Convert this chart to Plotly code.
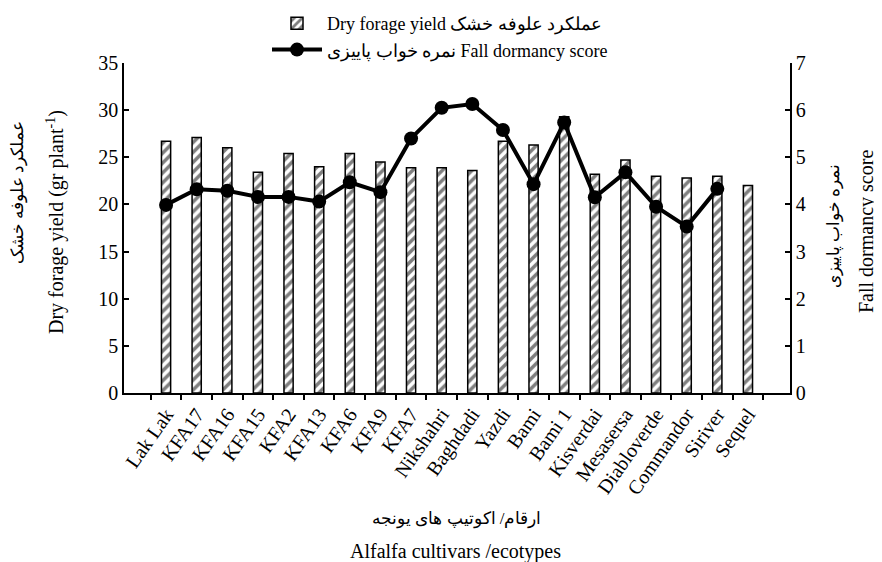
import plotly.graph_objects as go

categories = ["Lak Lak", "KFA17", "KFA16", "KFA15", "KFA2", "KFA13", "KFA6", "KFA9", "KFA7",
              "Nikshahri", "Baghdadi", "Yazdi", "Bami", "Bami 1", "Kisverdai", "Mesasersa",
              "Diabloverde", "Commandor", "Siriver", "Sequel"]
dry_forage_yield = [26.7, 27.1, 26.0, 23.4, 25.4, 24.0, 25.4, 24.5, 23.9, 23.9, 23.6,
                    26.7, 26.3, 29.3, 23.2, 24.7, 23.0, 22.8, 23.0, 22.0]
fall_dormancy = [3.99, 4.32, 4.29, 4.16, 4.16, 4.06, 4.47, 4.26, 5.40, 6.05, 6.13,
                 5.58, 4.43, 5.74, 4.15, 4.68, 3.95, 3.53, 4.33, None]

y_title_fa = "عملکرد علوفه خشک"
y_title_en = "Dry forage yield (gr plant<sup>-1</sup>)"
y2_title_fa = "نمره خواب پاییزی"
y2_title_en = "Fall dormancy score"
x_title_fa = "ارقام/ اکوتیپ های یونجه"
x_title_en = "Alfalfa cultivars /ecotypes"

font_family = "Liberation Serif, Times New Roman, serif"

# page has an 8px body margin; work in page pixel coordinates
OFF = 8
PAGE_W, PAGE_H = 882, 562
W, H = PAGE_W - OFF, PAGE_H - OFF
px_left, px_right, px_top, px_bottom = 124, 790, 63, 393
L = px_left - OFF
R = W - (px_right - OFF)
T = px_top - OFF
B = H - (px_bottom - OFF)
pw, ph = px_right - px_left, px_bottom - px_top

fig = go.Figure()
fig.add_trace(go.Bar(
    x=categories, y=dry_forage_yield,
    name="Dry forage yield عملکرد علوفه خشک",
    width=0.3,
    marker=dict(color="white", line=dict(color="black", width=1.5),
                pattern=dict(shape="/", fgcolor="black", bgcolor="white", size=7, solidity=0.5)),
    yaxis="y",
))
fig.add_trace(go.Scatter(
    x=categories, y=fall_dormancy,
    name="نمره خواب پاییزی Fall dormancy score",
    mode="lines+markers",
    line=dict(color="black", width=4),
    marker=dict(color="black", size=14, symbol="circle"),
    yaxis="y2",
))

annots = [
    dict(text=y_title_fa, x=18, y=192, textangle=-90, size=17),
    dict(text=y_title_en, x=55, y=222, textangle=-90, size=20),
    dict(text=y2_title_fa, x=834, y=226, textangle=-90, size=17),
    dict(text=y2_title_en, x=866, y=232, textangle=-90, size=20),
    dict(text=x_title_fa, x=456, y=519, textangle=0, size=17),
    dict(text=x_title_en, x=455, y=551, textangle=0, size=20),
]
annotations = []
for a in annots:
    annotations.append(dict(
        text=a["text"], xref="paper", yref="paper",
        x=(a["x"] - px_left) / pw, y=1 - (a["y"] - px_top) / ph,
        xanchor="center", yanchor="middle", textangle=a["textangle"],
        showarrow=False, font=dict(size=a["size"], family=font_family, color="black"),
    ))

fig.update_layout(
    width=W, height=H,
    margin=dict(l=L, r=R, t=T, b=B, autoexpand=False),
    paper_bgcolor="white", plot_bgcolor="white",
    font=dict(family=font_family, size=20, color="black"),
    showlegend=True,
    legend=dict(x=(267 - px_left) / pw, xanchor="left", y=1 + (px_top - 5) / ph, yanchor="top",
                bgcolor="rgba(0,0,0,0)", font=dict(size=18), itemwidth=50, tracegroupgap=0),
    bargap=0.7,
    annotations=annotations,
    xaxis=dict(
        showline=True, linecolor="black", linewidth=1.5,
        ticks="outside", ticklen=5, tickwidth=1.5, tickcolor="black",
        tickson="boundaries", tickangle=-55, showgrid=False,
        tickfont=dict(size=20),
    ),
    yaxis=dict(
        range=[0, 35], dtick=5, showline=True, linecolor="black", linewidth=1.5,
        ticks="inside", ticklen=5, tickwidth=1.5, tickcolor="black", showgrid=False, zeroline=False,
        tickfont=dict(size=20),
    ),
    yaxis2=dict(
        range=[0, 7], dtick=1, overlaying="y", side="right", anchor="x",
        showline=True, linecolor="black", linewidth=1.5,
        ticks="inside", ticklen=5, tickwidth=1.5, tickcolor="black", showgrid=False, zeroline=False,
        tickfont=dict(size=20),
    ),
)

fig.write_html("out.html")
